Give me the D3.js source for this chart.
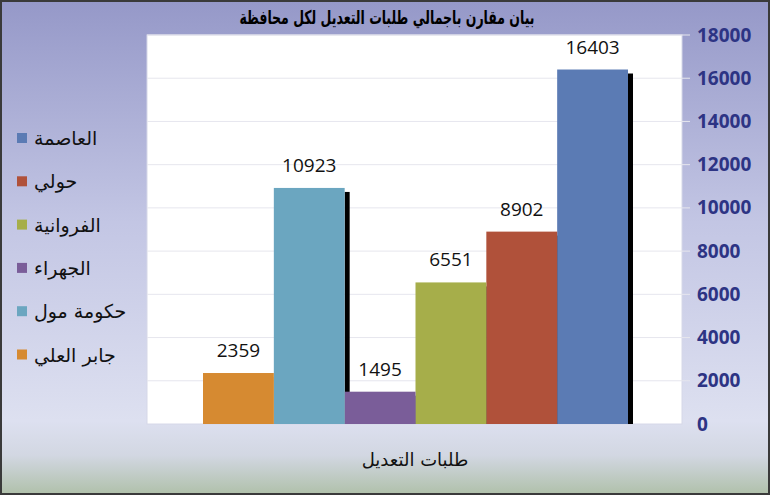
<!DOCTYPE html>
<html>
<head>
<meta charset="utf-8">
<script src="https://cdn.jsdelivr.net/npm/d3@7"></script>
<style>
  html, body { margin: 0; padding: 0; background: #fff; }
  svg { display: block; }
</style>
</head>
<body>
<div id="chart"></div>
<script>
const width = 770;
const height = 495;

// data
const categories = ['العاصمة', 'حولي', 'الفروانية', 'الجهراء', 'حكومة مول', 'جابر العلي'];
const values = [16403, 8902, 6551, 1495, 10923, 2359];
const colors = ['#5b7bb4', '#b0513a', '#a6ae4a', '#7a5d99', '#6ba6c0', '#d68a31'];
const yTicks = [0, 2000, 4000, 6000, 8000, 10000, 12000, 14000, 16000, 18000];
const title = 'بيان مقارن باجمالي طلبات التعديل لكل محافظة';
const xTitle = 'طلبات التعديل';

const plot = { left: 147, right: 682, top: 35, bottom: 424 };

const svg = d3.select('#chart')
    .append('svg')
    .attr('width', width)
    .attr('height', height)
    .attr('viewBox', `0,0,${width},${height}`);

const defs = svg.append('defs');
const bg = defs.append('linearGradient')
    .attr('id', 'bg')
    .attr('x1', 0).attr('y1', 0).attr('x2', 0).attr('y2', 1);
bg.append('stop').attr('offset', '0%').attr('stop-color', '#9598c8');
bg.append('stop').attr('offset', '45%').attr('stop-color', '#c3c6e4');
bg.append('stop').attr('offset', '85%').attr('stop-color', '#dde0f0');
bg.append('stop').attr('offset', '92%').attr('stop-color', '#d2d7e2');
bg.append('stop').attr('offset', '100%').attr('stop-color', '#afc0a9');

// background + frame
svg.append('rect')
    .attr('x', 0).attr('y', 0)
    .attr('width', width).attr('height', height)
    .attr('fill', 'url(#bg)');
svg.append('rect')
    .attr('x', 1).attr('y', 1)
    .attr('width', width - 2).attr('height', height - 2)
    .attr('fill', 'none')
    .attr('stroke', '#3a3a3a')
    .attr('stroke-width', 2);

// plot area
svg.append('rect')
    .attr('x', plot.left).attr('y', plot.top)
    .attr('width', plot.right - plot.left)
    .attr('height', plot.bottom - plot.top)
    .attr('fill', '#fff')
    .attr('stroke', '#d6d8e8');

const y = d3.scaleLinear()
    .domain([0, 18000])
    .range([plot.bottom, plot.top]);

const x = d3.scaleBand()
    .domain(categories)
    .range([628, 203]);

// gridlines
svg.append('g')
    .selectAll('line')
    .data(yTicks.slice(1))
    .join('line')
    .attr('x1', plot.left)
    .attr('x2', plot.right + 8)
    .attr('y1', d => y(d))
    .attr('y2', d => y(d))
    .attr('stroke', '#e6e6ee');

// right axis labels
const yAxis = svg.append('g')
    .attr('transform', `translate(${plot.right + 15},0)`)
    .call(d3.axisRight(y).tickValues(yTicks).tickFormat(d3.format('d')).tickSize(0).tickPadding(0));
yAxis.select('.domain').remove();
yAxis.selectAll('text')
    .attr('fill', '#2d3484')
    .style('font-family', '"Open Sans", "DejaVu Sans", sans-serif')
    .style('font-weight', 'bold')
    .style('font-size', '19px');

// shadows (behind bars)
svg.append('g')
    .selectAll('rect')
    .data(categories)
    .join('rect')
    .attr('x', d => x(d) + x.bandwidth())
    .attr('y', (d, i) => y(values[i]) + 4)
    .attr('width', 5)
    .attr('height', (d, i) => plot.bottom - y(values[i]) - 4)
    .attr('fill', '#000');

// bars
svg.append('g')
    .selectAll('rect')
    .data(categories)
    .join('rect')
    .attr('x', d => x(d))
    .attr('y', (d, i) => y(values[i]))
    .attr('width', x.bandwidth())
    .attr('height', (d, i) => plot.bottom - y(values[i]))
    .attr('fill', (d, i) => colors[i]);

// value labels
svg.append('g')
    .selectAll('text')
    .data(categories)
    .join('text')
    .attr('x', d => x(d) + x.bandwidth() / 2)
    .attr('y', (d, i) => y(values[i]) - 16)
    .attr('text-anchor', 'middle')
    .style('font-family', '"Open Sans", "DejaVu Sans", sans-serif')
    .style('font-size', '19px')
    .attr('fill', '#111')
    .text((d, i) => values[i]);

// title
svg.append('text')
    .attr('x', 387)
    .attr('y', 24)
    .attr('text-anchor', 'middle')
    .attr('direction', 'rtl')
    .attr('textLength', 295)
    .attr('lengthAdjust', 'spacingAndGlyphs')
    .style('font-family', '"DejaVu Sans", sans-serif')
    .style('font-weight', 'bold')
    .style('font-size', '19px')
    .attr('fill', '#000')
    .text(title);

// x title
svg.append('text')
    .attr('x', 415)
    .attr('y', 466)
    .attr('text-anchor', 'middle')
    .attr('direction', 'rtl')
    .style('font-family', '"DejaVu Sans", sans-serif')
    .style('font-size', '18px')
    .attr('fill', '#111')
    .text(xTitle);

// legend
const legend = svg.append('g')
    .selectAll('g')
    .data(categories)
    .join('g')
    .attr('transform', (d, i) => `translate(17,${138 + i * 43.3})`);
legend.append('rect')
    .attr('x', 0).attr('y', -5)
    .attr('width', 10).attr('height', 10)
    .attr('fill', (d, i) => colors[i]);
legend.append('text')
    .attr('x', 17)
    .attr('y', 7)
    .attr('text-anchor', 'start')
    .style('font-family', '"DejaVu Sans", sans-serif')
    .style('font-size', '19px')
    .attr('fill', '#111')
    .text(d => d);
</script>
</body>
</html>
